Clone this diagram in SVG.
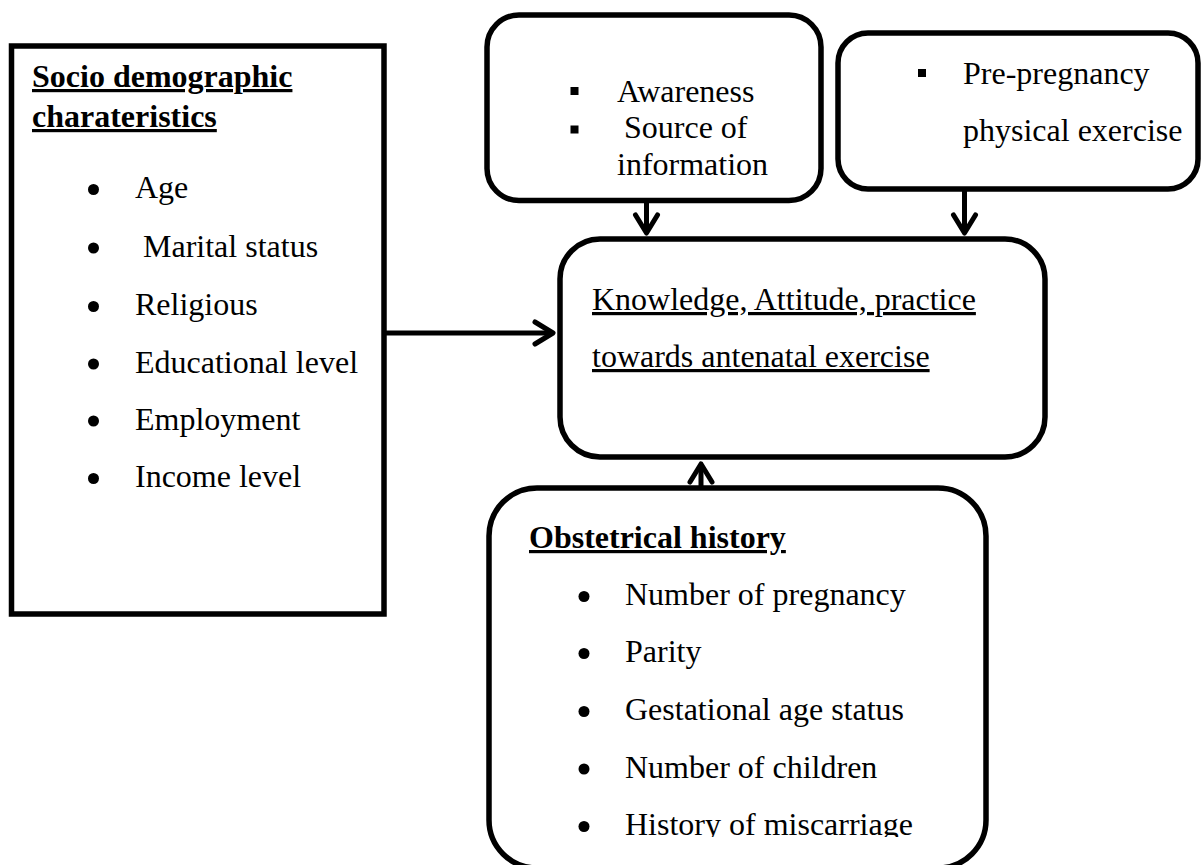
<svg xmlns="http://www.w3.org/2000/svg" width="1203" height="865" viewBox="0 0 1203 865">
<style>
  .box { fill: #ffffff; stroke: #000000; stroke-width: 5.5; }
  .t { font-family: "Liberation Serif", "Times New Roman", serif; font-size: 32px; fill: #000000; }
  .b { font-family: "Liberation Serif", "Times New Roman", serif; font-size: 32px; font-weight: bold; fill: #000000; text-decoration: underline; }
  .u { text-decoration: underline; }
  .dot { fill: #000000; }
  .conn { fill: none; stroke: #000000; stroke-width: 5; }
</style>
<defs>
  <marker id="chev" markerUnits="userSpaceOnUse" viewBox="-24 -16 30 32" refX="0" refY="0" markerWidth="30" markerHeight="32" orient="auto">
    <path d="M-18,-11 L0,0 L-18,11" fill="none" stroke="#000000" stroke-width="5" stroke-linecap="round" stroke-linejoin="round"/>
  </marker>
  <clipPath id="bottomClip">
    <rect x="0" y="0" width="1203" height="837"/>
  </clipPath>
</defs>
<rect x="0" y="0" width="1203" height="865" fill="#ffffff"/>

<g id="connectors">
  <line class="conn" x1="386" y1="333" x2="553" y2="333" marker-end="url(#chev)"/>
  <line class="conn" x1="646.5" y1="200" x2="646.5" y2="233" marker-end="url(#chev)"/>
  <line class="conn" x1="964.5" y1="189" x2="964.5" y2="233" marker-end="url(#chev)"/>
  <line class="conn" x1="701" y1="486" x2="701" y2="464" marker-end="url(#chev)"/>
</g>

<g id="node-socio">
  <rect class="box" x="11.5" y="46" width="372.5" height="568"/>
  <text class="b" x="32" y="87">Socio demographic</text>
  <text class="b" x="32" y="127">charateristics</text>
  <circle class="dot" cx="93.5" cy="189.5" r="5.5"/>
  <text class="t" x="135" y="198">Age</text>
  <circle class="dot" cx="93.5" cy="248" r="5.5"/>
  <text class="t" x="143" y="256.5">Marital status</text>
  <circle class="dot" cx="93.5" cy="306.5" r="5.5"/>
  <text class="t" x="135" y="315">Religious</text>
  <circle class="dot" cx="93.5" cy="364" r="5.5"/>
  <text class="t" x="135" y="372.5">Educational level</text>
  <circle class="dot" cx="93.5" cy="421" r="5.5"/>
  <text class="t" x="135" y="429.5">Employment</text>
  <circle class="dot" cx="93.5" cy="478.5" r="5.5"/>
  <text class="t" x="135" y="487">Income level</text>
</g>

<g id="node-awareness">
  <rect class="box" x="487" y="15" width="334" height="185.5" rx="32" ry="32"/>
  <rect class="dot" x="570.5" y="87" width="8" height="8"/>
  <text class="t" x="617" y="101.5">Awareness</text>
  <rect class="dot" x="570.5" y="125.5" width="8" height="8"/>
  <text class="t" x="624" y="138">Source of</text>
  <text class="t" x="617" y="175">information</text>
</g>

<g id="node-prepregnancy">
  <rect class="box" x="838" y="33" width="360" height="156" rx="30" ry="30"/>
  <rect class="dot" x="918" y="69" width="8" height="8"/>
  <text class="t" x="963" y="84">Pre-pregnancy</text>
  <text class="t" x="963" y="141">physical exercise</text>
</g>

<g id="node-kap">
  <rect class="box" x="560" y="239" width="485" height="218" rx="40" ry="40"/>
  <text class="t u" x="592" y="310">Knowledge, Attitude, practice</text>
  <text class="t u" x="592" y="367">towards antenatal exercise</text>
</g>

<g id="node-obstetric">
  <rect class="box" x="489" y="488" width="497" height="380" rx="48" ry="48"/>
  <text class="b" x="529" y="548">Obstetrical history</text>
  <circle class="dot" cx="584" cy="596.5" r="5.5"/>
  <text class="t" x="625" y="605">Number of pregnancy</text>
  <circle class="dot" cx="584" cy="653.5" r="5.5"/>
  <text class="t" x="625" y="662">Parity</text>
  <circle class="dot" cx="584" cy="711.5" r="5.5"/>
  <text class="t" x="625" y="720">Gestational age status</text>
  <circle class="dot" cx="584" cy="769" r="5.5"/>
  <text class="t" x="625" y="777.5">Number of children</text>
  <circle class="dot" cx="584" cy="826.5" r="5.5"/>
  <text class="t" x="625" y="835" clip-path="url(#bottomClip)">History of miscarriage</text>
</g>
</svg>
